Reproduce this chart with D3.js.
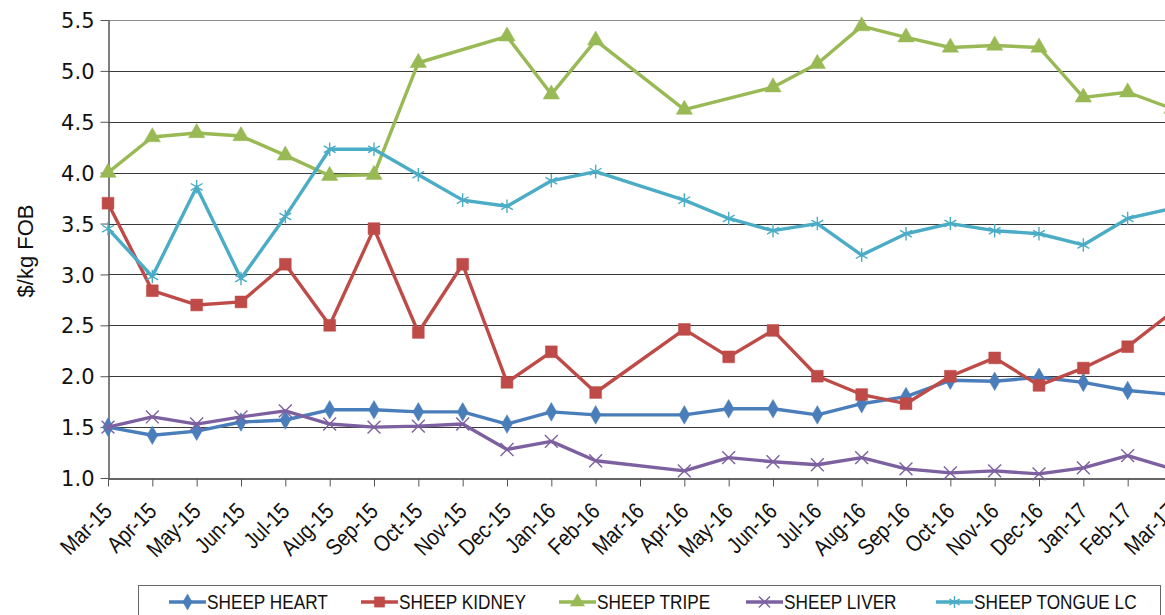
<!DOCTYPE html>
<html lang="en">
<head>
    <meta charset="UTF-8">
    <title>Sheep offal prices</title>
    <script src="https://d3js.org/d3.v7.min.js"></script>
    <style>
        html, body {margin: 0; padding: 0; background: #fff; overflow: hidden}
        svg {display: block}
        text {font-family: "Liberation Sans", Arial, sans-serif; fill: #111}
    </style>
</head>
<body>
<div id="chart"></div>
<script>

// months on the category axis
let months = ["Mar-15","Apr-15","May-15","Jun-15","Jul-15","Aug-15","Sep-15","Oct-15","Nov-15","Dec-15",
    "Jan-16","Feb-16","Mar-16","Apr-16","May-16","Jun-16","Jul-16","Aug-16","Sep-16","Oct-16","Nov-16","Dec-16",
    "Jan-17","Feb-17","Mar-17"];

// $/kg FOB, null = no quote that month
let heart  = [1.50,1.42,1.46,1.55,1.57,1.67,1.67,1.65,1.65,1.53,1.65,1.62,null,1.62,1.68,1.68,1.62,1.73,1.80,1.96,1.95,1.99,1.94,1.86,1.82];
let kidney = [3.70,2.84,2.70,2.73,3.10,2.50,3.45,2.43,3.10,1.94,2.24,1.84,null,2.46,2.19,2.45,2.00,1.82,1.73,2.00,2.18,1.91,2.08,2.29,2.63];
let tripe  = [4.00,4.35,4.39,4.36,4.17,3.97,3.98,5.08,null,5.34,4.77,5.30,null,4.62,null,4.84,5.07,5.44,5.33,5.23,5.25,5.23,4.74,4.79,4.63];
let liver  = [1.50,1.60,1.53,1.60,1.66,1.53,1.50,1.51,1.53,1.28,1.36,1.17,null,1.07,1.20,1.16,1.13,1.20,1.09,1.05,1.07,1.04,1.10,1.22,1.09];
let tongue = [3.45,2.98,3.86,2.96,3.57,4.23,4.23,3.98,3.73,3.67,3.92,4.01,null,3.73,3.55,3.43,3.50,3.19,3.40,3.50,3.43,3.40,3.29,3.55,3.65];

let yTicks = [1.0,1.5,2.0,2.5,3.0,3.5,4.0,4.5,5.0,5.5];

let series = [
    {name: "SHEEP HEART", values: heart, color: "#4a7ebb", sym: d3.symbolDiamond, size: 100, fill: true},
    {name: "SHEEP KIDNEY", values: kidney, color: "#be4b48", sym: d3.symbolSquare, size: 140, fill: true},
    {name: "SHEEP TRIPE", values: tripe, color: "#98b954", sym: d3.symbolTriangle, size: 115, fill: true},
    {name: "SHEEP LIVER", values: liver, color: "#7d60a0", sym: d3.symbolX, size: 110, fill: false},
    {name: "SHEEP TONGUE LC", values: tongue, color: "#4bacc6", sym: d3.symbolAsterisk, size: 130, fill: false}
];

let W = 1165, H = 615;
let svg = d3.select("#chart").append("svg").attr("width", W).attr("height", H);

let x = d3.scalePoint().domain(months).range([108, 1172]);
let y = d3.scaleLinear().domain([1, 5.5]).range([478, 20]);

// gridlines
svg.append("g").selectAll("line").data(yTicks.slice(1)).join("line")
    .attr("x1", 108).attr("x2", W)
    .attr("y1", d => Math.round(y(d)) + 0.5).attr("y2", d => Math.round(y(d)) + 0.5)
    .attr("stroke", d => d == 5.5 ? "#8c8c8c" : "#3a3a3a").attr("stroke-width", 1.2);

// y axis
let yAxis = svg.append("g").attr("transform", "translate(108.5,0)")
    .call(d3.axisLeft(y).tickValues(yTicks).tickFormat(d3.format(".1f")).tickSize(8).tickSizeOuter(0));
yAxis.select(".domain").attr("stroke", "#555").attr("stroke-width", 1.5);
yAxis.selectAll(".tick line").attr("stroke", "#555");
yAxis.selectAll("text").style("font-family", "'DejaVu Sans', sans-serif").attr("font-size", 21)
    .attr("x", -14).attr("dy", "0.36em");

// x axis
let xAxis = svg.append("g").attr("transform", "translate(0,478.5)")
    .call(d3.axisBottom(x).tickSize(8).tickSizeOuter(0));
xAxis.select(".domain").attr("stroke", "#333").attr("stroke-width", 1.5);
xAxis.selectAll(".tick line").attr("stroke", "#555");
xAxis.selectAll("text").attr("font-size", 23)
    .attr("text-anchor", "end").attr("y", 0).attr("dy", 0)
    .attr("transform", "translate(5,34) rotate(-45) scale(0.85,1)");

// axis title
svg.append("text")
    .attr("transform", "translate(33,251) rotate(-90)")
    .attr("text-anchor", "middle").attr("font-size", 22)
    .text("$/kg FOB");

// lines and markers
let line = d3.line().x(d => x(d.m)).y(d => y(d.v));

series.forEach(s => {
    let pts = months.map((m, i) => ({m: m, v: s.values[i]})).filter(d => d.v != null);
    svg.append("path").datum(pts).attr("d", line)
        .attr("fill", "none").attr("stroke", s.color).attr("stroke-width", 3.4)
        .attr("stroke-linejoin", "round");
    svg.append("g").selectAll("path").data(pts).join("path")
        .attr("transform", d => `translate(${x(d.m)},${y(d.v)})`)
        .attr("d", d3.symbol(s.sym, s.size))
        .attr("fill", s.fill ? s.color : "none")
        .attr("stroke", s.color).attr("stroke-width", s.fill ? 0.5 : 1.4);
});

// legend
svg.append("rect").attr("x", 138.5).attr("y", 585.5).attr("width", 1022).attr("height", 40)
    .attr("fill", "#fff").attr("stroke", "#666").attr("stroke-width", 1);

let legX = [169, 361, 559, 746, 936];
let leg = svg.append("g").selectAll("g").data(series).join("g")
    .attr("transform", (d, i) => `translate(${legX[i]},602)`);
leg.append("line").attr("x1", 0).attr("x2", 37).attr("stroke", d => d.color).attr("stroke-width", 3.4);
leg.append("path").attr("transform", "translate(18.5,0)")
    .attr("d", d => d3.symbol(d.sym, d.size * 0.75)())
    .attr("fill", d => d.fill ? d.color : "none")
    .attr("stroke", d => d.color).attr("stroke-width", d => d.fill ? 0.5 : 1.4);
leg.append("text").attr("transform", "translate(38,6.5) scale(0.82,1)")
    .attr("font-size", 21).text(d => d.name);

</script>
</body>
</html>
